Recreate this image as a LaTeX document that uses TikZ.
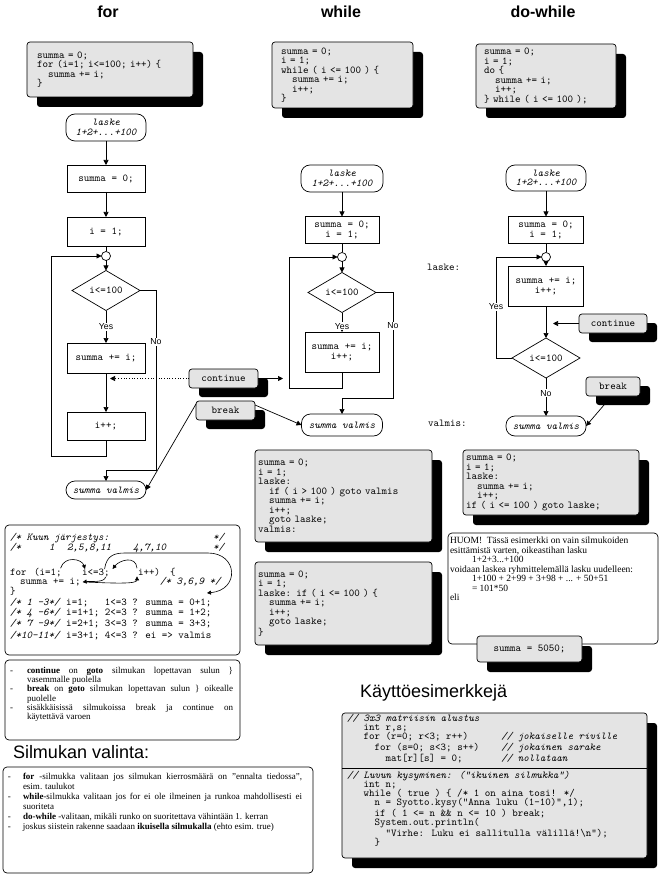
\documentclass[tikz,border=0pt]{standalone}
\usepackage{fontspec}
\setmainfont{Liberation Serif}
\setsansfont{Liberation Sans}
\usetikzlibrary{shapes.geometric,shadows,arrows.meta,calc}

\definecolor{boxgray}{RGB}{228,228,228}
\newcommand\codefont{\fontsize{10.5}{9.5}\selectfont\ttfamily}
\newcommand\examplefont{\fontsize{10.5}{9.2}\selectfont\ttfamily}
\newcommand\notefont{\fontsize{9}{9.3}\selectfont\rmfamily}
\newcommand\choicefont{\fontsize{9}{10}\selectfont\rmfamily}
\newcommand\huomfont{\fontsize{9.5}{9.5}\selectfont\rmfamily}
\newcommand\lblfont{\fontsize{8.7}{9}\selectfont\sffamily}
\newcommand\jline[2]{\makebox[#1][s]{#2}}
\newcommand\bul[1]{\makebox[#1][l]{-}}
% indentation by a number of monospace character cells
\newcommand\ind[1]{\hspace*{#1\dimexpr 0.525em\relax}}

\begin{document}
\begin{tikzpicture}[x=1pt, y=-1pt,
  every node/.style={inner sep=0pt, outer sep=0pt},
  wire/.style={line width=0.7pt},
  arr/.style={line width=0.7pt, -{Triangle[length=5pt,width=5pt]}},
  smallarr/.style={line width=0.6pt, -{Triangle[length=4pt,width=4pt]}},
  boxshadow/.style={drop shadow={shadow xshift=10pt, shadow yshift=-10pt, fill=black, opacity=1}},
  codebox/.style={draw, line width=0.7pt, fill=boxgray, rounded corners=3pt, boxshadow,
    anchor=north west, align=left, font=\codefont, inner ysep=3pt},
  tag/.style={draw, line width=0.7pt, fill=boxgray, rounded corners=3pt,
    drop shadow={shadow xshift=10pt, shadow yshift=-9pt, fill=black, opacity=1},
    anchor=north west, font=\codefont, minimum height=19pt},
  stepbox/.style={draw, line width=0.7pt, fill=white, align=center, font=\codefont},
  term/.style={draw, line width=0.7pt, fill=white, rounded corners=9pt, align=center,
    font=\codefont\itshape},
  cond/.style={draw, diamond, line width=0.7pt, fill=white, font=\codefont,
    minimum width=68pt, minimum height=40pt},
  joint/.style={draw, circle, line width=0.7pt, fill=white, minimum size=9pt},
  lbl/.style={fill=white, font=\lblfont, inner sep=1pt},
  notebox/.style={draw, line width=0.7pt, fill=white, rounded corners=4pt, anchor=north west},
  ord/.style={anchor=base west, font=\codefont},
  heading/.style={font=\fontsize{16}{16}\selectfont\sffamily\bfseries},
  bigheading/.style={anchor=west, font=\fontsize{18}{18}\selectfont\sffamily},
]
\useasboundingbox[fill=white] (0,0) rectangle (661,874);

% ---------- column headings ----------
\node[heading] (tfor) at (108,12) {for};
\node[heading] (twhile) at (341,12) {while};
\node[heading] (tdo) at (543,12) {do-while};

% ---------- source code of the three loops ----------
\node[codebox, inner xsep=10pt, text width=146pt, minimum height=55pt] (forcode) at (27,42)
  {summa = 0;\\for (i=1; i<=100; i++) \{\\\ind{2}summa += i;\\\}};
\node[codebox, inner xsep=9pt, text width=123pt, minimum height=66pt] (whilecode) at (272,42)
  {summa = 0;\\i = 1;\\while ( i <= 100 ) \{\\\ind{2}summa += i;\\\ind{2}i++;\\\}};
\node[codebox, inner xsep=8pt, text width=124pt, minimum height=64pt] (docode) at (476,44)
  {summa = 0;\\i = 1;\\do \{\\\ind{2}summa += i;\\\ind{2}i++;\\\} while ( i <= 100 );};

% ---------- for flowchart ----------
\node[term, minimum width=80pt, minimum height=27pt] (fstart) at (106,127.5) {laske\\1+2+...+100};
\node[stepbox, minimum width=78pt, minimum height=27pt] (fa) at (106,178.5) {summa = 0;};
\node[stepbox, minimum width=78pt, minimum height=29pt] (fb) at (106,231.5) {i = 1;};
\node[joint] (fjoin) at (106,256) {};
\node[cond] (fcond) at (106,290.5) {i<=100};
\node[stepbox, minimum width=78pt, minimum height=30pt] (fbody) at (106,358) {summa += i;};
\node[stepbox, minimum width=78pt, minimum height=28pt] (finc) at (106,426) {i++;};
\node[term, minimum width=80pt, minimum height=18pt] (fend) at (106,490) {summa valmis};
\draw[arr] (fstart) -- (fa);
\draw[arr] (fa) -- (fb);
\draw[wire] (fb) -- (fjoin);
\draw[arr] (fjoin) -- (fcond);
\draw[arr] (fcond) -- node[lbl]{Yes} (fbody);
\draw[arr] (fbody) -- (finc);
\draw[arr] (finc.south) |- (51,456) |- (fjoin.west);
\draw[arr] (fcond.east) -| (156,470) -| (fend.north);
\node[lbl] (fno) at (156,342) {No};

% ---------- while flowchart ----------
\node[term, minimum width=82pt, minimum height=27pt] (wstart) at (342,178.5) {laske\\1+2+...+100};
\node[stepbox, minimum width=74pt, minimum height=27pt] (wa) at (342,230) {summa = 0;\\i = 1;};
\node[joint] (wjoin) at (342,257) {};
\node[cond] (wcond) at (342,292.5) {i<=100};
\node[stepbox, minimum width=74pt, minimum height=40pt] (wbody) at (342,352) {summa += i;\\i++;};
\node[term, minimum width=81pt, minimum height=22pt] (wend) at (342,425) {summa valmis};
\draw[arr] (wstart) -- (wa);
\draw[wire] (wa) -- (wjoin);
\draw[arr] (wjoin) -- (wcond);
\draw[arr] (wcond) -- node[lbl, pos=0.7]{Yes} (wbody);
\draw[arr] (wbody.south) |- (289,388) |- (wjoin.west);
\draw[arr] (wcond.east) -| (393,398) -| (wend.north);
\node[lbl] (wno) at (393,326) {No};

% ---------- continue / break between for and while ----------
\node[tag, minimum width=69pt] (contA) at (189,369) {continue};
\node[tag, minimum width=59pt] (brkA) at (196,401) {break};
\coordinate (fcont) at (110,378.5);
\coordinate (wcont) at (283,378.5);
\draw[arr, dotted] (contA.west) -- (fcont);
\draw[arr] (contA.east) -- (wcont);
\draw[arr] ([yshift=-3pt]brkA.north west) -- (fend.east);
\draw[arr] ([yshift=-4pt]brkA.north east) -- (wend.west);

% ---------- do-while flowchart ----------
\node[term, minimum width=80pt, minimum height=26pt] (dstart) at (546,178) {laske\\1+2+...+100};
\node[stepbox, minimum width=75pt, minimum height=27pt] (da) at (546,230) {summa = 0;\\i = 1;};
\node[joint] (djoin) at (546,257) {};
\node[stepbox, minimum width=75pt, minimum height=40pt] (dbody) at (546,286) {summa += i;\\i++;};
\node[cond] (dcond) at (546,358) {i<=100};
\node[term, minimum width=80pt, minimum height=20pt] (dend) at (546,426) {summa valmis};
\node[anchor=west, font=\codefont] (dlaske) at (427,267) {laske:};
\node[anchor=west, font=\codefont] (dvalmis) at (428,423) {valmis:};
\draw[arr] (dstart) -- (da);
\draw[wire] (da) -- (djoin);
\draw[arr] (djoin) -- (dbody);
\draw[arr] (dbody) -- (dcond);
\draw[arr] (dcond.west) -| (496,257) -- (djoin.west);
\node[lbl] (dyes) at (496,307) {Yes};
\draw[arr] (dcond) -- node[lbl, pos=0.4]{No} (dend);
\node[tag, minimum width=68pt] (contC) at (579,314) {continue};
\coordinate (dcont) at (553,323.5);
\draw[arr] (contC.west) -- (dcont);
\node[tag, minimum width=54pt] (brkC) at (586,377) {break};
\draw[arr] ([xshift=18pt,yshift=-9pt]brkC.south west) -- (dend.east);

% ---------- goto versions ----------
\node[codebox, inner xsep=3pt, text width=171pt, minimum height=92pt] (gotoa) at (255,450)
  {summa = 0;\\i = 1;\\laske:\\\ind{2}if ( i > 100 ) goto valmis\\\ind{2}summa += i;\\\ind{2}i++;\\\ind{2}goto laske;\\valmis:};
\node[codebox, inner xsep=3pt, text width=171pt, minimum height=83pt] (gotob) at (255,562)
  {summa = 0;\\i = 1;\\laske: if ( i <= 100 ) \{\\\ind{2}summa += i;\\\ind{2}i++;\\\ind{2}goto laske;\\\}};
\node[codebox, inner xsep=3pt, text width=170pt, minimum height=65pt] (gotoc) at (463,450)
  {summa = 0;\\i = 1;\\laske:\\\ind{2}summa += i;\\\ind{2}i++;\\if ( i <= 100 ) goto laske;};

% ---------- remark on the closed form ----------
\node[notebox, minimum width=210pt, minimum height=111pt] (huom) at (448,533) {};
\node[anchor=north west, font=\huomfont, align=left] (huomtext) at (450,537)
  {HUOM!~ Tässä esimerkki on vain silmukoiden\\
   esittämistä varten, oikeastihan lasku\\
   \hspace*{22pt}1+2+3...+100\\
   voidaan laskea ryhmittelemällä lasku uudelleen:\\
   \hspace*{22pt}1+100 + 2+99 + 3+98 + ... + 50+51\\
   \hspace*{22pt}= 101*50\\
   eli};
\node[codebox, inner xsep=0pt, minimum width=105pt, minimum height=26pt, align=center] (sum5050) at (477,636) {summa = 5050;};

% ---------- order of evaluation ----------
\node[notebox, minimum width=235pt, minimum height=130pt] (orderbox) at (5,525) {};
\node[ord] (oh1) at (10,540.5) {\itshape /* Kuun järjestys:};
\node[ord] (oh1e) at (213,540.5) {\itshape */};
\node[ord] (oh2) at (10,550.5) {\itshape /*};
\node[ord] (os1) at (49,550.5) {\itshape 1};
\node[ord] (os2) at (67,550.5) {\itshape 2,5,8,11};
\node[ord] (os3) at (133,550.5) {\itshape 4,7,10};
\node[ord] (oh2e) at (213,550.5) {\itshape */};
\node[ord] (ofor) at (10,575.5) {for};
\node[ord] (oinit) at (34,575.5) {(i=1;};
\node[ord] (otest) at (82,575.5) {i<=3;};
\node[ord] (oinc) at (138,575.5) {i++)};
\node[ord] (obrace) at (170,575.5) {\{};
\node[ord] (osum) at (20,584.5) {summa += i;};
\node[ord] (os4) at (160,584.5) {\itshape /* 3,6,9 */};
\node[ord] (oclose) at (10,594.5) {\}};
\node[ord] (or1) at (10,605.5) {\textit{/* 1 -3*/} i=1;~~~1<=3 ? summa = 0+1;};
\node[ord] (or2) at (10,615.5) {\textit{/* 4 -6*/} i=1+1; 2<=3 ? summa = 1+2;};
\node[ord] (or3) at (10,626.5) {\textit{/* 7 -9*/} i=2+1; 3<=3 ? summa = 3+3;};
\node[ord] (or4) at (10,638.5) {\textit{/*10-11*/} i=3+1; 4<=3 ? ei => valmis};
\coordinate (oexit) at (207,593);
\draw[smallarr] ([xshift=-1pt]oinit.north east) .. controls +(4,-13) and +(-3,-10) .. ([xshift=3pt]otest.north west);
\draw[smallarr] ([xshift=-4pt]otest.south east) .. controls +(-1,6) and +(8,-1) .. ([xshift=2pt]osum.east);
\draw[smallarr] ([xshift=5pt]osum.east) .. controls +(25,1) and +(0,8) .. ([xshift=-1pt]oinc.south west);
\draw[smallarr] ([xshift=-1pt]oinc.north west) .. controls +(-1,-13) and +(7,-9) .. ([xshift=3pt]otest.north east);
\draw[smallarr] ([xshift=-5pt]otest.north east) .. controls +(2,-14) and +(-10,0) .. (125,553) -- (208,553) .. controls (238,553) and (240,590) .. (oexit);

% ---------- notes on continue and break ----------
\node[notebox, minimum width=235pt, minimum height=80pt] (notes) at (5,660) {};
\node[anchor=north west, font=\notefont, align=left] (notestext) at (10,667)
  {\bul{17pt}\jline{206pt}{\textbf{continue} on \textbf{goto} silmukan lopettavan sulun \}}\\
   \hspace*{17pt}vasemmalle puolella\\
   \bul{17pt}\jline{206pt}{\textbf{break} on \textbf{goto} silmukan lopettavan sulun \} oikealle}\\
   \hspace*{17pt}puolelle\\
   \bul{17pt}\jline{206pt}{sisäkkäisissä silmukoissa break ja continue on}\\
   \hspace*{17pt}käytettävä varoen};

% ---------- choosing a loop ----------
\node[bigheading] (tchoice) at (13,752) {Silmukan valinta:};
\node[notebox, minimum width=310pt, minimum height=106pt] (choice) at (3,767) {};
\node[anchor=north west, font=\choicefont, align=left] (choicetext) at (8,773)
  {\bul{15pt}\jline{279pt}{\textbf{for} -silmukka valitaan jos silmukan kierrosmäärä on "ennalta tiedossa",}\\
   \hspace*{15pt}esim. taulukot\\
   \bul{15pt}\jline{279pt}{\textbf{while}-silmukka valitaan jos for ei ole ilmeinen ja runkoa mahdollisesti ei}\\
   \hspace*{15pt}suoriteta\\
   \bul{15pt}\textbf{do-while} -valitaan, mikäli runko on suoritettava vähintään 1. kerran\\
   \bul{15pt}joskus siistein rakenne saadaan \textbf{ikuisella silmukalla} (ehto esim. true)};

% ---------- usage examples ----------
\node[bigheading] (tuse) at (360,693) {Käyttöesimerkkejä};
\node[codebox, minimum width=305pt, minimum height=145pt] (examples) at (342,713) {};
\draw[wire] ($(examples.north west)+(0,55)$) -- ($(examples.north east)+(0,55)$);
\node[anchor=north west, font=\examplefont, align=left] (exmat) at (347,714)
  {\textit{// 3x3 matriisin alustus}\\
   \ind{3}int r,s;\\
   \ind{3}for (r=0; r<3; r++)~~~~~~\textit{// jokaiselle riville}\\
   \ind{5}for (s=0; s<3; s++)~~~~\textit{// jokainen sarake}\\
   \ind{7}mat[r][s] = 0;~~~~~~~\textit{// nollataan}};
\node[anchor=north west, font=\examplefont, align=left] (exask) at (347,771)
  {\textit{// Luvun kysyminen: ("ikuinen silmukka")}\\
   \ind{3}int n;\\
   \ind{3}while ( true ) \{ /* 1 on aina tosi! */\\
   \ind{5}n = Syotto.kysy("Anna luku (1-10)",1);\\
   \ind{5}if ( 1 <= n \&\& n <= 10 ) break;\\
   \ind{5}System.out.println(\\
   \ind{7}"Virhe: Luku ei sallitulla välillä!\textbackslash n");\\
   \ind{5}\}};
\end{tikzpicture}
\end{document}
